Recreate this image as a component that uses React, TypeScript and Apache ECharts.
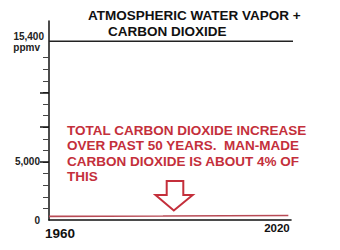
import React, { useEffect, useRef } from "react";
import * as echarts from "echarts";

// Data
const co2Years = [1960, 1990, 2023];
const co2Values = [315, 345, 390];
const refYears = [1960, 2026];
const refValue = 15400;
const xLabelYears = [1960, 2020];
const yLabelValues = [0, 5000];
const yTopLabelValue = 15400;
const minorTickValues = [1000, 2000, 3000, 4000, 5000, 6000, 7000, 8000, 9000, 10000, 11000, 12000, 13000, 14000];
const majorTickValues = [5000, 8000, 11000];
const titleLines = ["ATMOSPHERIC WATER VAPOR +", "CARBON DIOXIDE"];
const noteLines = [
  "TOTAL CARBON DIOXIDE INCREASE",
  "OVER PAST 50 YEARS.  MAN-MADE",
  "CARBON DIOXIDE IS ABOUT 4% OF",
  "THIS",
];

const RED = "#c42f3b";
const FONT = "'Liberation Sans', Arial, sans-serif";

export default function App() {
  const ref = useRef<HTMLDivElement>(null);
  useEffect(() => {
    if (!ref.current) return;
    const chart = echarts.init(ref.current, null, { renderer: "svg" });
    chart.setOption({
      animation: false,
      backgroundColor: "#ffffff",
      textStyle: { fontFamily: FONT },
      title: [
        {
          text: titleLines[0],
          left: 83,
          top: 2,
          textStyle: { fontSize: 13.5, fontWeight: "bold", color: "#111", fontFamily: FONT, lineHeight: 16 },
        },
        {
          text: titleLines[1],
          left: 103,
          top: 18,
          textStyle: { fontSize: 13.5, fontWeight: "bold", color: "#111", fontFamily: FONT, lineHeight: 16 },
        },
      ],
      grid: { left: 49, right: 49, top: 21, bottom: 30 },
      xAxis: {
        type: "value",
        min: 1960,
        max: 2023.7,
        splitLine: { show: false },
        axisTick: { show: false },
        axisLine: { show: true, lineStyle: { color: "#111", width: 1.6 } },
        axisLabel: {
          customValues: xLabelYears,
          margin: 2,
          formatter: (v: number) => (v === 1960 ? `{a|${v}}` : `{b|${v}}`),
          rich: {
            a: { fontSize: 13.5, fontWeight: "bold", color: "#111", fontFamily: FONT, padding: [4, 0, 0, 22] },
            b: { fontSize: 11.5, fontWeight: "bold", color: "#111", fontFamily: FONT },
          },
        },
      },
      yAxis: [
        {
          type: "value",
          position: "left",
          min: 0,
          max: 17150,
          splitLine: { show: false },
          axisLine: { show: true, lineStyle: { color: "#111", width: 1.5 } },
          axisTick: { show: true, customValues: minorTickValues, length: 6, lineStyle: { color: "#444", width: 1 } },
          axisLabel: {
            customValues: yLabelValues,
            margin: 9,
            fontSize: 10,
            fontWeight: "bold",
            color: "#222",
            fontFamily: FONT,
            formatter: (v: number) => v.toLocaleString("en-US"),
          },
        },
        {
          type: "value",
          position: "left",
          offset: 0,
          min: 0,
          max: 17150,
          splitLine: { show: false },
          axisLine: { show: false },
          axisTick: { show: true, customValues: majorTickValues, length: 9, lineStyle: { color: "#111", width: 1.5 } },
          axisLabel: {
            customValues: [yTopLabelValue],
            margin: 5,
            formatter: (v: number) => `{t|${v.toLocaleString("en-US")}}\n{p|ppmv}`,
            rich: {
              t: { fontSize: 10, fontWeight: "bold", color: "#222", fontFamily: FONT, lineHeight: 13, padding: [4, 0, 0, 0] },
              p: { fontSize: 10, fontWeight: "bold", color: "#222", fontFamily: FONT, lineHeight: 13, padding: [0, 4, 0, 0] },
            },
          },
        },
      ],
      series: [
        {
          type: "line",
          yAxisIndex: 0,
          data: refYears.map((y) => [y, refValue]),
          symbol: "none",
          clip: false,
          lineStyle: { color: "#222", width: 1.6 },
          silent: true,
        },
        {
          type: "line",
          yAxisIndex: 0,
          data: co2Years.map((y, i) => [y, co2Values[i]]),
          symbol: "none",
          clip: false,
          lineStyle: { color: "#b84a55", width: 1.6 },
          silent: true,
        },
      ],
      graphic: [
        {
          type: "text",
          left: 67,
          top: 122.5,
          style: {
            text: noteLines.join("\n"),
            fill: RED,
            font: `bold 13.5px ${FONT}`,
            lineHeight: 15.5,
          },
        },
        {
          type: "polygon",
          shape: {
            points: [
              [166.7, 181],
              [183.3, 181],
              [183.3, 195],
              [192.7, 195],
              [173.8, 210.5],
              [155.5, 195],
              [166.7, 195],
            ],
          },
          style: { fill: "#ffffff", stroke: RED, lineWidth: 2 },
        },
      ],
    });
    return () => chart.dispose();
  }, []);
  return (
    <div
      ref={ref}
      style={{ position: "fixed", left: 0, top: 0, width: 340, height: 250, background: "#fff" }}
    />
  );
}
